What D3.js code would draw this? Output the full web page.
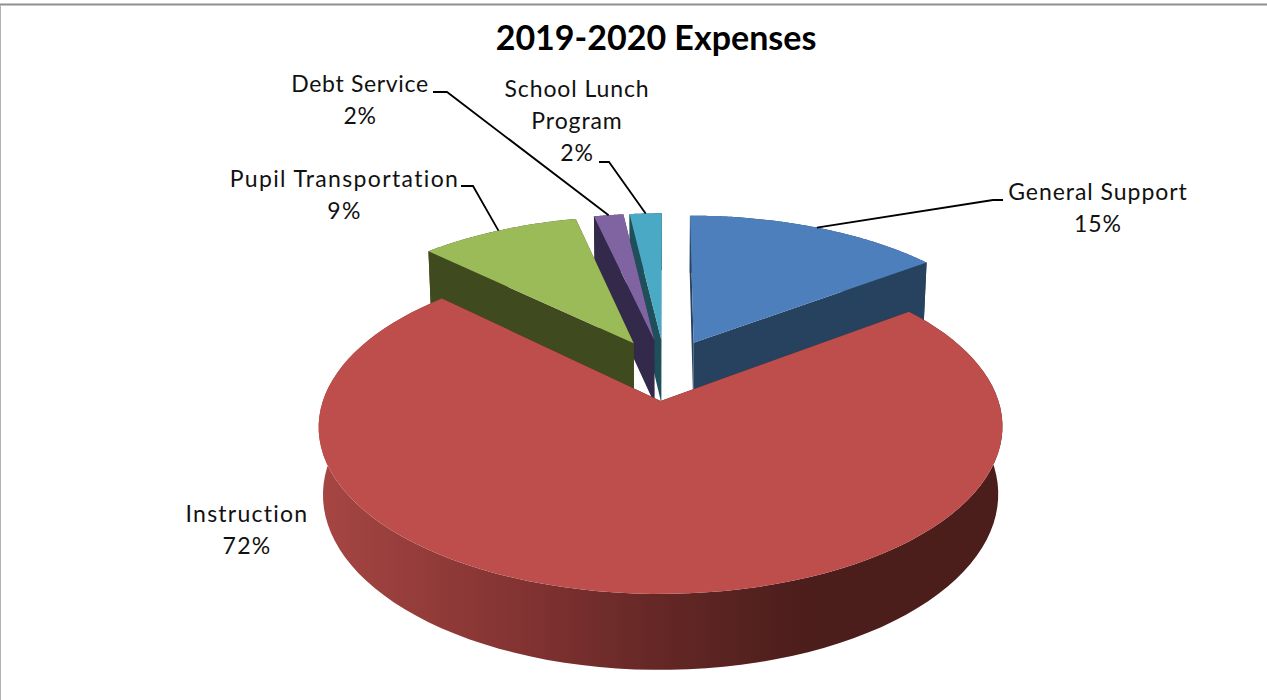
<!DOCTYPE html>
<meta charset="utf-8">
<head>
    <script src="https://d3js.org/d3.v7.min.js"></script>
    <style>
        body { margin: 0; background: #fff; overflow: hidden; }
        text { font-family: Lato, "Open Sans", sans-serif; fill: #111; }
    </style>
</head>
<body>
<div id="my_dataviz"></div>
<script>

    // data, labels show them rounded
    var categories = ["General Support", "Instruction", "Pupil Transportation", "Debt Service", "School Lunch Program"];
    var values = [14.8, 72.45, 9.2, 1.7, 1.85];
    var title = "2019-2020 Expenses";

    // colours per slice: top face, cut walls
    var topColors = ["#4d7fbc", "#be4e4b", "#9bbb59", "#8064a2", "#4aa9c5"];
    var wallColors = ["#26425f", "#4b1d1b", "#404a1f", "#33294a", "#1f4f5b"];

    // label layout, same order as categories
    var labelLines = [["General Support"], ["Instruction"], ["Pupil Transportation"], ["Debt Service"], ["School Lunch", "Program"]];
    var labelX = [1098, 247, 344.5, 360, 577];
    var labelY = [200, 522, 187, 92, 97];
    var labelSpacing = [0.95, 1.25, 1.35, 0.65, 0.9];
    var elbows = [[[993, 200], [1003, 200]], null, [[473, 186], [461, 186]], [[447, 92], [433, 92]], [[609, 162], [599, 162]]];

    var width = 1267, height = 700;

    // projection of the tilted disk, unit radius, with some perspective
    var cx = 665, cy = 369.4, R = 327.7, Rs = 153.5, persp = 0.15, thick = 65.9, shrink = 0.012;
    var explode = 0.2;

    function project(u, v, z) {
        var k = 1 / (1 - persp * v + shrink * z);
        return [cx + R * u * k, cy + (Rs * v + thick * z) * k];
    }

    var svg = d3.select("#my_dataviz")
        .append("svg")
        .attr("width", width)
        .attr("height", height);

    // chart frame, the picture is cropped so only top and left show
    svg.append("line").attr("x1", 0).attr("x2", width).attr("y1", 4.5).attr("y2", 4.5)
        .attr("stroke", "#8f8f8f").attr("stroke-width", 2);
    svg.append("line").attr("x1", 0.5).attr("x2", 0.5).attr("y1", 5).attr("y2", height)
        .attr("stroke", "#b4b4b4").attr("stroke-width", 1);

    // shading on the big outer wall
    var grad = svg.append("defs").append("linearGradient")
        .attr("id", "redWall")
        .attr("gradientUnits", "userSpaceOnUse")
        .attr("x1", 320).attr("x2", 1000).attr("y1", 0).attr("y2", 0);
    grad.append("stop").attr("offset", "0%").attr("stop-color", "#a64643");
    grad.append("stop").attr("offset", "31%").attr("stop-color", "#803231");
    grad.append("stop").attr("offset", "49%").attr("stop-color", "#652826");
    grad.append("stop").attr("offset", "72%").attr("stop-color", "#4b1d1b");
    grad.append("stop").attr("offset", "100%").attr("stop-color", "#4b1d1b");

    var arcs = d3.pie().sort(null)(values);
    var line = d3.line();

    // each slice gets its own helper for points on the disk
    var slices = arcs.map(function(a, i) {
        var mid = (a.startAngle + a.endAngle) / 2;
        var ou = explode * Math.sin(mid), ov = -explode * Math.cos(mid);
        var pt = function(r, ang, z) {
            return project(ou + r * Math.sin(ang), ov - r * Math.cos(ang), z);
        };
        var rim = d3.range(0, 101).map(function(t) {
            return a.startAngle + (a.endAngle - a.startAngle) * t / 100;
        });
        return {i: i, a: a, mid: mid, pt: pt, rim: rim};
    });

    // small slices at the back first, the big one goes over everything
    var drawOrder = [4, 3, 2, 0, 1];

    drawOrder.forEach(function(i) {
        var s = slices[i];
        var g = svg.append("g").attr("class", "slice");
        var wallFill = i === 1 ? "url(#redWall)" : wallColors[i];

        // two cut walls
        [s.a.startAngle, s.a.endAngle].forEach(function(ang) {
            g.append("path")
                .attr("d", line([s.pt(0, ang, 0), s.pt(1, ang, 0), s.pt(1, ang, 1), s.pt(0, ang, 1)]) + "Z")
                .attr("fill", wallColors[i]);
        });

        // outer wall
        var outer = s.rim.map(function(ang) { return s.pt(1, ang, 0); })
            .concat(s.rim.slice().reverse().map(function(ang) { return s.pt(1, ang, 1); }));
        g.append("path").attr("d", line(outer) + "Z").attr("fill", wallFill);

        // top face
        var top = [s.pt(0, s.a.startAngle, 0)].concat(s.rim.map(function(ang) { return s.pt(1, ang, 0); }));
        g.append("path").attr("d", line(top) + "Z").attr("fill", topColors[i]);
    });

    // leader lines
    slices.forEach(function(s) {
        if (!elbows[s.i]) return;
        svg.append("path")
            .attr("d", line([s.pt(1, s.mid, 0)].concat(elbows[s.i])))
            .attr("fill", "none")
            .attr("stroke", "#000")
            .attr("stroke-width", 1.8);
    });

    // labels
    var lineGap = 32;
    categories.forEach(function(c, i) {
        var lines = labelLines[i].concat([Math.round(values[i]) + "%"]);
        svg.append("g").selectAll("text")
            .data(lines)
            .enter().append("text")
            .attr("x", labelX[i])
            .attr("y", function(d, j) { return labelY[i] + j * lineGap; })
            .attr("text-anchor", "middle")
            .style("font-size", "23px")
            .style("letter-spacing", labelSpacing[i] + "px")
            .text(function(d) { return d; });
    });

    svg.append("text")
        .attr("x", 656)
        .attr("y", 50)
        .attr("text-anchor", "middle")
        .style("font-size", "34px")
        .style("font-weight", "700")
        .style("fill", "#000")
        .text(title);

</script>
</body>
